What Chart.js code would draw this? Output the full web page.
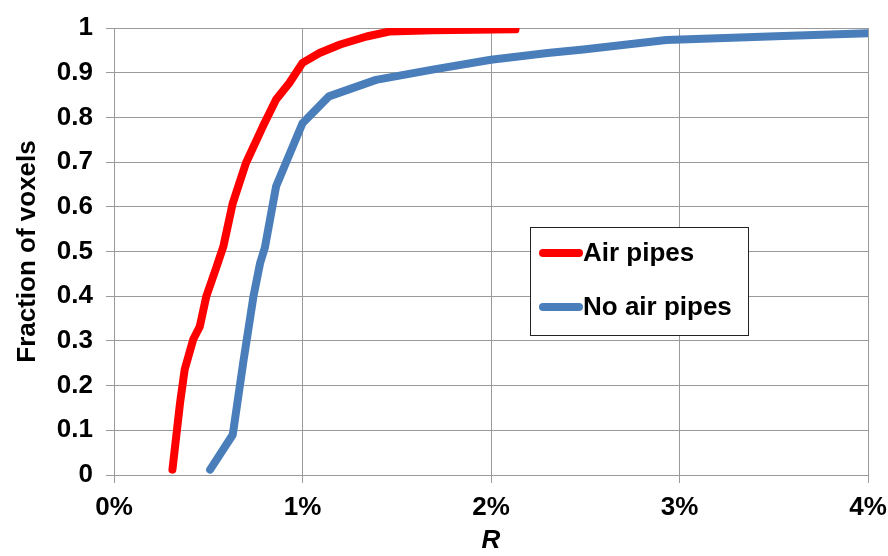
<!DOCTYPE html>
<html>
<head>
<meta charset="utf-8">
<script src="https://cdn.jsdelivr.net/npm/chart.js@4"></script>
<style>
  html, body { margin: 0; padding: 0; background: #fff; }
  #wrap { width: 888px; height: 556px; }
</style>
</head>
<body>
<div id="wrap"><canvas id="c" width="888" height="556"></canvas></div>
<script>
// R values are in percent
const airX = [0.31, 0.35, 0.375, 0.42, 0.455, 0.49, 0.545, 0.58, 0.63, 0.70, 0.79, 0.86, 0.93, 1.0, 1.09, 1.2, 1.34, 1.46, 1.69, 2.13];
const airY = [0.012, 0.16, 0.236, 0.303, 0.332, 0.40, 0.467, 0.511, 0.608, 0.698, 0.78, 0.84, 0.877, 0.922, 0.944, 0.963, 0.981, 0.992, 0.995, 0.997];
const noAirX = [0.51, 0.63, 0.685, 0.74, 0.775, 0.80, 0.86, 1.0, 1.14, 1.39, 1.69, 2.0, 2.3, 2.49, 2.93, 3.55, 4.0];
const noAirY = [0.012, 0.09, 0.25, 0.40, 0.474, 0.508, 0.646, 0.787, 0.847, 0.884, 0.907, 0.929, 0.944, 0.952, 0.973, 0.982, 0.988];
const seriesNames = ['Air pipes', 'No air pipes'];
const seriesColors = ['#ff0000', '#4a7ebb'];

const toPoints = (xs, ys) => xs.map((x, i) => ({ x: x, y: ys[i] }));
const fam = '"Liberation Sans", Arial, sans-serif';

// legend box drawn inside the plot, like the original
const boxLegend = {
  id: 'boxLegend',
  afterDraw(chart) {
    const ctx = chart.ctx;
    const left = 530, top = 227, w = 218, h = 108;
    ctx.save();
    ctx.fillStyle = '#fff';
    ctx.fillRect(left, top, w, h);
    ctx.strokeStyle = '#222';
    ctx.lineWidth = 1;
    ctx.strokeRect(left + 0.5, top + 0.5, w, h);
    chart.data.datasets.forEach((ds, i) => {
      const y = top + 26 + i * 54;
      ctx.strokeStyle = ds.borderColor;
      ctx.lineWidth = 8;
      ctx.lineCap = 'round';
      ctx.beginPath();
      ctx.moveTo(543, y);
      ctx.lineTo(579, y);
      ctx.stroke();
      ctx.fillStyle = '#000';
      ctx.font = 'bold 26px ' + fam;
      ctx.textBaseline = 'middle';
      ctx.fillText(ds.label, 583, y + 1);
    });
    ctx.restore();
  }
};

const gridColor = '#9a9a9a';
const tickFont = { family: fam, size: 26, weight: 'bold' };

new Chart(document.getElementById('c'), {
  type: 'line',
  data: {
    datasets: [
      { label: seriesNames[0], data: toPoints(airX, airY), borderColor: seriesColors[0], backgroundColor: seriesColors[0] },
      { label: seriesNames[1], data: toPoints(noAirX, noAirY), borderColor: seriesColors[1], backgroundColor: seriesColors[1] }
    ]
  },
  options: {
    responsive: false,
    animation: false,
    layout: { padding: { top: 28, right: 20, left: 0, bottom: 0 } },
    elements: {
      point: { radius: 0 },
      line: { borderWidth: 8, tension: 0, borderCapStyle: 'round', borderJoinStyle: 'round' }
    },
    plugins: { legend: { display: false }, tooltip: { enabled: false } },
    scales: {
      x: {
        type: 'linear',
        min: 0, max: 4,
        ticks: { stepSize: 1, color: '#000', font: tickFont, padding: 9, callback: v => v + '%' },
        grid: { color: gridColor, lineWidth: 1, tickLength: 8 },
        border: { color: gridColor },
        title: { display: true, text: 'R', color: '#000', padding: { top: 4, bottom: 0 },
                 font: { family: fam, size: 26, weight: 'bold', style: 'italic' } },
        afterFit(scale) { scale.height = 81; scale.paddingLeft = 0; scale.paddingRight = 0; }
      },
      y: {
        min: 0, max: 1,
        ticks: { stepSize: 0.1, color: '#000', font: tickFont, padding: 13,
                 callback: v => Math.round(v * 10) / 10 + '' },
        grid: { color: gridColor, lineWidth: 1, tickLength: 8 },
        border: { color: gridColor },
        title: { display: true, text: 'Fraction of voxels', color: '#000', padding: { top: 12, bottom: 0 },
                 font: { family: fam, size: 26, weight: 'bold' } },
        afterFit(scale) { scale.width = 114; scale.paddingTop = 0; scale.paddingBottom = 0; }
      }
    }
  },
  plugins: [boxLegend]
});
</script>
</body>
</html>
